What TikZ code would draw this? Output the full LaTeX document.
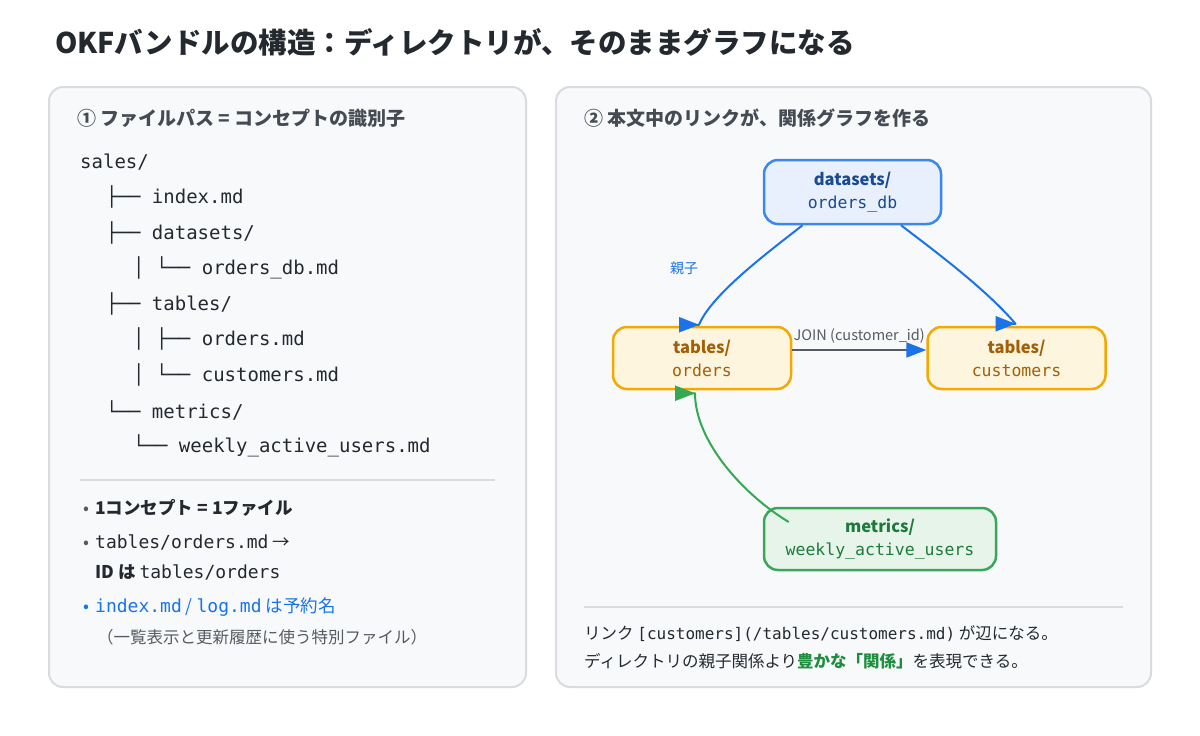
\documentclass[tikz,border=0pt]{standalone}
\usepackage{fontspec}
\setmainfont{Noto Sans CJK JP}
\setmonofont{DejaVu Sans Mono}
\usetikzlibrary{positioning, arrows.meta}

\definecolor{okblue}{HTML}{1A73E8}
\definecolor{dsfill}{HTML}{E8F0FE}
\definecolor{dsdraw}{HTML}{3D86EC}
\definecolor{dstext}{HTML}{1A4A94}
\definecolor{tbfill}{HTML}{FEF5DE}
\definecolor{tbdraw}{HTML}{F2A900}
\definecolor{tbtext}{HTML}{A35F07}
\definecolor{mtfill}{HTML}{E6F4EA}
\definecolor{mtdraw}{HTML}{3AA65A}
\definecolor{mttext}{HTML}{1D7A3B}
\definecolor{okgreen}{HTML}{34A853}
\definecolor{relgreen}{HTML}{1E8E3E}
\definecolor{panelfill}{HTML}{F8F9FB}
\definecolor{paneldraw}{HTML}{D8DBDF}
\definecolor{headgray}{HTML}{454B52}
\definecolor{textdark}{HTML}{24292F}
\definecolor{textgray}{HTML}{555B61}

\newcommand{\fsz}[2]{\fontsize{#1}{#2}\selectfont}
\newcommand{\bul}{\llap{•\hspace{6pt}}}

\begin{document}
\begin{tikzpicture}[x=1pt, y=-1pt,
    panel/.style={draw=paneldraw, line width=2pt, fill=panelfill, rounded corners=14pt},
    rule/.style={draw=paneldraw, line width=1.5pt},
    txt/.style={anchor=west, inner sep=0pt},
    tree/.style={txt, font=\ttfamily\fsz{19}{22}, text=textdark},
    head/.style={txt, font=\bfseries\fsz{19}{22}, text=headgray},
    box/.style={rounded corners=14pt, line width=2.5pt, align=center, inner sep=0pt, font=\fsz{16.5}{23}},
    dsbox/.style={box, draw=dsdraw, fill=dsfill, text=dstext, minimum width=177pt, minimum height=64pt},
    tbbox/.style={box, draw=tbdraw, fill=tbfill, text=tbtext, minimum width=178pt, minimum height=62pt},
    mtbox/.style={box, draw=mtdraw, fill=mtfill, text=mttext, minimum width=232pt, minimum height=62pt},
    tip/.style={line width=2pt, line join=round, -{Triangle[length=20pt, width=15pt]}},
]
\useasboundingbox (0,0) rectangle (1200,736);
\fill[white] (0,0) rectangle (1200,736);

\node[txt, font=\bfseries\fsz{28.5}{32}, text=textdark] (title) at (55,42)
    {OKFバンドルの構造：ディレクトリが、そのままグラフになる};

\draw[panel] (49,87) rectangle (526,687);
\draw[panel] (556,87) rectangle (1151,687);

% left: file tree
\node[head] (lhead) at (77,118) {① ファイルパス = コンセプトの識別子};
\node[tree] (root) at (80,162) {sales/};
\node[tree] (t1) at (106,197) {├── index.md};
\node[tree] (t2) at (106,233) {├── datasets/};
\node[tree] (t3) at (133,268) {│ └── orders\_db.md};
\node[tree] (t4) at (106,304) {├── tables/};
\node[tree] (t5) at (133,339) {│ ├── orders.md};
\node[tree] (t6) at (133,375) {│ └── customers.md};
\node[tree] (t7) at (106,410) {└── metrics/};
\node[tree] (t8) at (133,446) {└── weekly\_active\_users.md};
\draw[rule] (80,480) -- (495,480);

\node[txt, font=\bfseries\fsz{17.5}{20}, text=textdark] (b1) at (95,508)
    {\textcolor{textgray}{\mdseries\bul}1コンセプト = 1ファイル};
\node[txt, font=\fsz{17.5}{20}, text=textdark] (b2) at (95,542)
    {\textcolor{textgray}{\bul}{\ttfamily\fsz{18}{20}tables/orders.md} →};
\node[txt, font=\fsz{17.5}{20}, text=textdark] (b3) at (95,572)
    {\textbf{ID は} {\ttfamily\fsz{18}{20}tables/orders}};
\node[txt, font=\fsz{17.5}{20}, text=okblue] (b4) at (95,607)
    {\bul{\ttfamily\fsz{18}{20}index.md} / {\ttfamily\fsz{18}{20}log.md} は予約名};
\node[txt, font=\fsz{16.5}{20}, text=textgray] (b5) at (97,637)
    {（一覧表示と更新履歴に使う特別ファイル）};

% right: link graph
\node[head] (rhead) at (584,118) {② 本文中のリンクが、関係グラフを作る};
\node[dsbox] (ds) at (852.5,192) {\textbf{datasets/}\\\texttt{orders\_db}};
\node[tbbox] (ord) at (702,358) {\textbf{tables/}\\\texttt{orders}};
\node[tbbox] (cus) [right=134pt of ord] {\textbf{tables/}\\\texttt{customers}};
\node[mtbox] (met) at (880,539) {\textbf{metrics/}\\\texttt{weekly\_active\_users}};

\draw[okblue, tip] ([xshift=-50pt]ds.south) .. controls +(-33,26) and +(13,-31) .. ([shift={(-3,-1)}]ord.north)
    node[pos=0.45, left=47pt, font=\fsz{14}{15}, text=okblue] {親子} -- ++(0.1,0);
\draw[okblue, tip] ([xshift=48.5pt]ds.south) .. controls +(34,26) and +(-30,-35) .. ([shift={(-1,-2)}]cus.north) -- ++(0.1,0);
\draw[textgray, line width=2pt, -{Triangle[length=20pt, width=15pt, color=okblue]}]
    ([yshift=8pt]ord.east) -- ([yshift=8pt]cus.west)
    node[midway, above=2pt, font=\fsz{14.5}{16}, text=textgray] {JOIN (customer\_id)};
\draw[okgreen, tip] ([shift={(26,-17)}]met.west) .. controls +(-45,-27) and +(0,48) .. ([shift={(-7,3)}]ord.south) -- ++(0.1,0);

\draw[rule] (584,607) -- (1123,607);
\node[txt, font=\fsz{16.5}{20}, text=textdark] (n1) at (584,634)
    {リンク {\ttfamily\fsz{16}{20}[customers](/tables/customers.md)} が辺になる。};
\node[txt, font=\fsz{16.5}{20}, text=textdark] (n2) at (584,661)
    {ディレクトリの親子関係より\textcolor{relgreen}{\bfseries 豊かな「関係」}を表現できる。};
\end{tikzpicture}
\end{document}
